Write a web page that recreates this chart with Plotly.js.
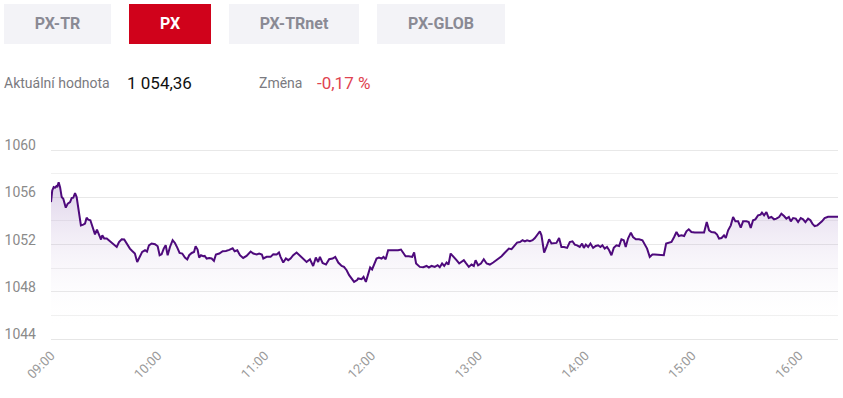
<!DOCTYPE html>
<html>
<head>
<meta charset="utf-8">
<script src="https://cdn.plot.ly/plotly-3.0.1.min.js"></script>
<style>
  html, body { margin: 0; padding: 0; background: #fff; width: 843px; height: 398px; overflow: hidden; font-family: Roboto, "Open Sans", sans-serif; }
  .btn { position: absolute; top: 4px; height: 40px; line-height: 40px; text-align: center; font-weight: 700; font-size: 16px; background: #f3f3f7; color: #8a8a94; }
  .btn.active { background: #d0021b; color: #fff; }
  .lbl { position: absolute; top: 72px; line-height: 22px; white-space: nowrap; }
  #chart { position: absolute; left: 0; top: 0; width: 843px; height: 398px; }
</style>
</head>
<body>
<div id="chart"></div>
<div class="btn" style="left:4px;width:107px;">PX-TR</div>
<div class="btn active" style="left:129px;width:82px;">PX</div>
<div class="btn" style="left:229px;width:130px;">PX-TRnet</div>
<div class="btn" style="left:377px;width:128px;">PX-GLOB</div>
<div class="lbl" style="left:4px;font-size:14px;color:#7a7a80;">Aktuální hodnota</div>
<div class="lbl" style="left:127px;font-size:17px;color:#111;">1 054,36</div>
<div class="lbl" style="left:259px;font-size:14px;color:#7a7a80;">Změna</div>
<div class="lbl" style="left:317px;font-size:17px;color:#e0434f;">-0,17 %</div>
<script>
// minutes after 09:00 open
const minutes = [0,0.7,1.5,2.2,3.0,3.5,4.3,5.1,6.0,6.9,8.3,9.4,10.7,11.6,12.5,13.5,14.4,15.3,16.8,18.1,19.1,20.0,20.9,22.1,23.2,24.7,25.8,26.9,28.1,28.8,29.9,31.3,32.5,34.1,35.5,36.9,38.2,39.7,41.1,42.5,44.3,45.6,47.1,48.4,50.0,51.2,52.8,53.9,55.0,56.5,58.4,59.9,61.0,62.1,63.3,64.4,65.5,66.8,68.3,69.6,70.9,72.2,73.7,75.2,76.5,77.6,79.0,80.3,81.2,82.3,83.2,84.2,85.5,
86.3,87.4,88.9,90.2,91.5,92.6,94.5,96.4,98.2,100.1,102.0,103.1,104.6,106.1,107.9,109.8,112.1,113.6,115.5,116.9,118.4,119.2,121.1,123.3,124.8,126.7,128.0,128.9,130.4,131.9,133.2,134.5,136.0,137.9,139.8,141.6,143.5,145.4,147.2,148.7,150.0,151.0,152.5,154.4,156.2,158.1,159.6,161.3,163.2,164.5,166.0,167.4,168.9,170.2,171.9,
172.5,174.4,175.5,176.8,178.1,179.2,180.3,181.5,182.8,184.1,185.6,186.7,187.9,189.3,191.2,193.1,194.9,196.5,197.7,199.1,200.9,202.8,203.9,205.0,207.1,209.0,210.9,212.2,213.7,215.5,217.1,218.3,219.6,220.8,222.1,223.2,224.4,225.8,227.7,229.2,230.5,231.8,232.9,234.6,236.1,237.4,238.4,239.8,241.4,243.0,244.6,246.4,248.3,250.2,251.5,253.0,254.4,255.8,257.1,258.6,260.0,
260.4,261.7,263.3,264.8,266.1,267.3,268.9,270.4,271.7,273.0,274.5,275.4,276.9,278.2,279.7,281.0,282.5,283.8,285.3,286.6,288.1,289.8,291.3,292.8,294.1,295.4,296.9,298.2,299.2,300.3,301.6,302.9,304.4,305.9,307.2,308.5,309.6,310.9,312.2,313.4,314.7,316.0,317.5,319.0,320.3,321.6,322.7,324.0,325.6,326.8,328.4,330.2,332.1,333.4,334.7,336.2,337.7,339.0,340.9,342.8,344.1,345.4,
346.9,348.4,349.9,351.2,352.5,354.0,355.5,356.8,358.1,359.6,361.5,363.3,365.2,366.7,368.2,369.5,370.8,372.7,374.0,375.1,376.5,377.9,378.9,380.2,381.7,383.0,384.3,385.8,387.3,388.6,390.5,391.8,392.9,394.2,395.5,397.0,398.4,399.2,400.4,401.7,403.0,404.5,406.0,407.3,408.8,410.1,411.6,412.9,414.3,415.4,416.7,418.2,419.5,421.0,422.3,423.6,425.1,426.4,427.5,428.8,430.3,431.6,432.9,434.4,436.3,438.2,440.4,441.9];

const values = [1055.60,1056.59,1056.87,1056.82,1056.95,1056.87,1057.29,1056.87,1056.03,1055.89,1055.13,1055.47,1055.60,1055.94,1055.97,1056.36,1056.03,1055.18,1053.63,1053.69,1053.78,1054.28,1054.12,1054.06,1053.49,1052.87,1053.27,1052.79,1052.43,1052.79,1052.51,1052.51,1052.37,1052.14,1052.03,1051.80,1052.22,1052.45,1052.43,1052.09,1051.66,1051.46,1051.24,1050.53,1051.10,1051.38,1051.52,1051.41,1051.94,1052.09,1052.03,1051.86,1051.10,1051.18,1051.66,1051.94,1051.10,1051.80,1052.37,1052.14,1051.75,1051.29,1051.24,1050.90,1050.74,1051.10,1051.29,1051.38,1051.86,1051.58,1050.90,1051.10,1051.01,
1051.04,1050.82,1050.87,1050.82,1050.62,1051.16,1051.24,1051.44,1051.46,1051.55,1051.69,1051.44,1051.52,1051.10,1050.87,1051.04,1051.41,1051.24,1051.16,1051.24,1051.16,1050.82,1050.96,1050.96,1051.18,1051.16,1051.33,1050.96,1050.48,1050.82,1050.68,1050.82,1051.10,1051.33,1051.04,1050.82,1050.53,1050.76,1050.19,1050.90,1050.53,1050.96,1050.45,1050.31,1050.76,1050.82,1050.96,1050.48,1050.19,1050.11,1049.83,1049.41,1049.13,1048.84,1048.99,
1049.13,1049.07,1049.26,1048.84,1049.55,1050.06,1049.89,1050.40,1050.82,1050.90,1050.82,1050.96,1050.76,1051.52,1051.52,1051.50,1051.52,1051.58,1051.33,1051.01,1051.01,1050.96,1051.33,1050.40,1050.11,1050.08,1050.19,1050.06,1050.19,1050.11,1050.25,1050.08,1050.40,1050.19,1050.48,1050.31,1051.24,1050.96,1050.68,1050.40,1050.53,1050.68,1050.45,1050.11,1050.31,1050.19,1050.68,1050.25,1050.40,1050.76,1050.40,1050.31,1050.48,1050.68,1050.82,1051.01,1051.24,1051.44,1051.66,1051.61,1051.88,
1051.94,1052.17,1052.22,1052.37,1052.28,1052.37,1052.28,1052.37,1052.56,1052.85,1053.13,1052.79,1051.33,1051.80,1052.45,1052.09,1052.09,1052.14,1052.56,1051.80,1051.80,1051.72,1052.22,1052.28,1052.00,1051.94,1051.80,1052.09,1051.72,1052.00,1051.80,1052.09,1051.72,1051.88,1051.94,1051.80,1051.94,1051.66,1051.80,1051.52,1051.10,1051.72,1051.94,1051.88,1052.45,1052.37,1051.80,1052.51,1053.02,1052.64,1052.45,1052.45,1052.37,1052.00,1051.66,1050.96,1051.16,1051.16,1051.16,1051.10,1051.10,1052.09,
1052.17,1052.22,1052.64,1053.07,1052.73,1052.79,1052.73,1053.13,1053.30,1053.07,1053.02,1053.02,1053.02,1053.02,1053.91,1053.21,1053.07,1053.02,1052.85,1052.51,1052.56,1052.79,1052.56,1053.21,1053.63,1054.34,1053.97,1053.97,1053.44,1053.97,1053.97,1053.91,1053.41,1054.06,1054.14,1054.48,1054.54,1054.71,1054.48,1054.76,1054.25,1054.34,1054.14,1054.20,1054.34,1054.62,1054.42,1054.20,1054.34,1053.97,1054.25,1054.20,1053.91,1054.25,1054.14,1053.91,1054.20,1054.06,1053.78,1053.57,1053.63,1053.78,1053.97,1054.25,1054.36,1054.36,1054.36,1054.36];

const tickLabels = ['09:00','10:00','11:00','12:00','13:00','14:00','15:00','16:00'];
const yTickVals = [1044, 1048, 1052, 1056, 1060];
const day = '2024-01-02';
const sessionEndMinutes = 441.9;

function toStamp(m) {
  const total = Math.round(m * 60);
  const h = 9 + Math.floor(total / 3600);
  const mi = Math.floor((total % 3600) / 60);
  const s = total % 60;
  const p = n => String(n).padStart(2, '0');
  return day + ' ' + p(h) + ':' + p(mi) + ':' + p(s);
}

const xs = minutes.map(toStamp);
const tickVals = tickLabels.map(t => day + ' ' + t + ':00');

const trace = {
  type: 'scatter', mode: 'lines',
  x: xs, y: values,
  line: { color: '#4e0a7c', width: 2 },
  fill: 'tozeroy',
  fillgradient: {
    type: 'vertical', start: 1045, stop: 1057,
    colorscale: [[0, 'rgba(255,255,255,0)'], [1, 'rgba(110,60,160,0.22)']]
  },
  hoverinfo: 'skip'
};

const layout = {
  width: 843, height: 398,
  margin: { l: 51, r: 5, t: 126, b: 59, pad: 0 },
  paper_bgcolor: 'rgba(0,0,0,0)', plot_bgcolor: '#fff',
  showlegend: false,
  font: { family: 'Roboto, sans-serif' },
  xaxis: {
    type: 'date',
    range: [toStamp(0), toStamp(sessionEndMinutes)],
    tickvals: tickVals, ticktext: tickLabels,
    tickangle: -45,
    tickfont: { size: 13, color: '#9a9a9a' },
    showgrid: false, zeroline: false,
    showline: true, linecolor: '#e6e6e6', linewidth: 1,
    ticks: 'outside', ticklen: 3, tickcolor: 'rgba(0,0,0,0)', fixedrange: true
  },
  yaxis: {
    range: [1044, 1062.05],
    tickvals: yTickVals,
    tickfont: { size: 14, color: '#8a8a8a' },
    ticklabelshift: -5,
    ticklabelstandoff: 14,
    gridcolor: '#e8e8e8', gridwidth: 1,
    minor: { dtick: 2, tick0: 1044, showgrid: true, gridcolor: '#f0f0f0', gridwidth: 1, ticks: '' },
    zeroline: false, showline: false, ticks: '', fixedrange: true
  }
};

Plotly.newPlot('chart', [trace], layout, { displayModeBar: false, staticPlot: true });
</script>
</body>
</html>
